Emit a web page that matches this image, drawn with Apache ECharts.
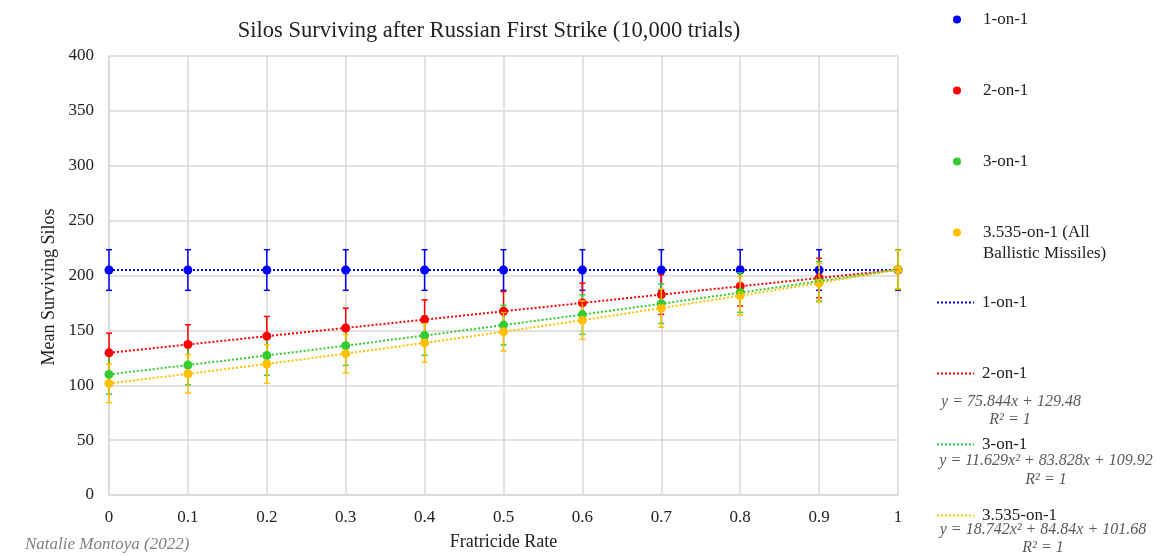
<!DOCTYPE html>
<html>
<head>
<meta charset="utf-8">
<script src="https://cdn.jsdelivr.net/npm/echarts@6/dist/echarts.min.js"></script>
<style>
  html, body { margin: 0; padding: 0; background: #fff; }
  #chart { width: 1156px; height: 557px; }
</style>
</head>
<body>
<div id="chart"></div>
<script>
// fratricide rate (x) and mean surviving silos per attack ratio
const rates = [0, 0.1, 0.2, 0.3, 0.4, 0.5, 0.6, 0.7, 0.8, 0.9, 1];
const oneOnOne = [205, 205, 205, 205, 205, 205, 205, 205, 205, 205, 205];
const twoOnOne = [129.5, 137.1, 144.7, 152.2, 159.8, 167.4, 175.0, 182.6, 190.2, 197.7, 205.3];
const threeOnOne = [109.9, 118.4, 127.1, 136.1, 145.3, 154.8, 164.4, 174.3, 184.4, 194.8, 205.4];
const allBallistic = [101.7, 110.4, 119.4, 128.8, 138.6, 148.8, 159.3, 170.3, 181.7, 193.2, 205.3];

// error bar half-heights
const errOne = [18.5, 18.5, 18.5, 18.5, 18.5, 18.5, 18.5, 18.5, 18.5, 18.5, 18.5];
const errTwo = [18, 18, 18, 18, 18, 18, 18, 18, 18, 18, 18];
const errThree = [18, 18, 18, 18, 18, 18, 18, 18, 18, 18, 18];
const errAll = [17.5, 17.5, 17.5, 17.5, 17.5, 17.5, 17.5, 17.5, 17.5, 17.5, 17.5];

const seriesNames = ["1-on-1", "2-on-1", "3-on-1", "3.535-on-1 (All Ballistic Missiles)"];
const trendNames = ["Trend 1-on-1", "Trend 2-on-1", "Trend 3-on-1", "Trend 3.535-on-1"];
const trendLabels = {
  "Trend 1-on-1": "1-on-1",
  "Trend 2-on-1": "2-on-1",
  "Trend 3-on-1": "3-on-1",
  "Trend 3.535-on-1": "3.535-on-1",
};
const equations = [
  { text: "y = 75.844x + 129.48", x: 1011, y: 402 },
  { text: "R² = 1", x: 1010, y: 420 },
  { text: "y = 11.629x² + 83.828x + 109.92", x: 1046, y: 461 },
  { text: "R² = 1", x: 1046, y: 480 },
  { text: "y = 18.742x² + 84.84x + 101.68", x: 1043, y: 530 },
  { text: "R² = 1", x: 1043, y: 548 },
];

const colors = ["#0000ff", "#ff0000", "#33cc33", "#ffc000"];
const means = [oneOnOne, twoOnOne, threeOnOne, allBallistic];
const errors = [errOne, errTwo, errThree, errAll];

const FONT = "Liberation Serif";

function errorSeries(idx) {
  return {
    type: "custom",
    name: seriesNames[idx] + " err",
    z: 3 + idx,
    silent: true,
    data: rates.map((x, i) => [x, means[idx][i] - errors[idx][i], means[idx][i] + errors[idx][i]]),
    renderItem: (params, api) => {
      const lo = api.coord([api.value(0), api.value(1)]);
      const hi = api.coord([api.value(0), api.value(2)]);
      const cap = 3;
      const style = { stroke: colors[idx], lineWidth: 1.5 };
      return {
        type: "group",
        children: [
          { type: "line", shape: { x1: lo[0], y1: lo[1], x2: hi[0], y2: hi[1] }, style },
          { type: "line", shape: { x1: lo[0] - cap, y1: lo[1], x2: lo[0] + cap, y2: lo[1] }, style },
          { type: "line", shape: { x1: hi[0] - cap, y1: hi[1], x2: hi[0] + cap, y2: hi[1] }, style },
        ],
      };
    },
  };
}

const series = [];
means.forEach((vals, idx) => {
  series.push(errorSeries(idx));
  series.push({
    type: "scatter",
    name: seriesNames[idx],
    z: 4 + idx,
    symbol: "circle",
    symbolSize: 9,
    itemStyle: { color: colors[idx], opacity: 1 },
    data: rates.map((x, i) => [x, vals[i]]),
  });
});
means.forEach((vals, idx) => {
  series.push({
    type: "line",
    name: trendNames[idx],
    z: 10 + idx,
    symbol: "none",
    smooth: false,
    lineStyle: { color: colors[idx], width: 2, type: [2, 2] },
    itemStyle: { color: colors[idx] },
    data: rates.map((x, i) => [x, vals[i]]),
  });
});

const chart = echarts.init(document.getElementById("chart"));
chart.setOption({
  animation: false,
  textStyle: { fontFamily: FONT },
  title: {
    text: "Silos Surviving after Russian First Strike (10,000 trials)",
    left: 484,
    textAlign: "center",
    top: 15,
    textStyle: { fontFamily: FONT, fontSize: 22.5, fontWeight: "normal", color: "#222" },
  },
  grid: { left: 109, right: 258, top: 56, bottom: 62 },
  legend: [
    {
      data: seriesNames,
      orient: "vertical",
      left: 948,
      top: 3,
      itemWidth: 30,
      itemHeight: 8,
      itemGap: 48,
      selectedMode: false,
      formatter: (name) => (name === seriesNames[3] ? "3.535-on-1 (All" : name),
      textStyle: { fontFamily: FONT, fontSize: 17, color: "#222", lineHeight: 23, padding: [0, 0, 0, 6] },
    },
    {
      data: trendNames,
      orient: "vertical",
      left: 931,
      top: 286,
      itemWidth: 37,
      itemHeight: 10,
      itemGap: 48,
      selectedMode: false,
      itemStyle: { opacity: 0 },
      formatter: (name) => trendLabels[name],
      textStyle: { fontFamily: FONT, fontSize: 17, color: "#222", lineHeight: 23, padding: [0, 0, 0, 3] },
    },
  ],
  xAxis: {
    type: "value",
    min: 0,
    max: 1,
    interval: 0.1,
    name: "Fratricide Rate",
    nameLocation: "middle",
    nameGap: 38,
    nameTextStyle: { fontFamily: FONT, fontSize: 18, color: "#222" },
    axisLine: { lineStyle: { color: "#d9d9d9", width: 1.5 } },
    axisTick: { show: false },
    axisLabel: { fontFamily: FONT, fontSize: 17, color: "#222", margin: 14 },
    splitLine: { show: true, lineStyle: { color: "#d9d9d9", width: 1.5 } },
  },
  yAxis: {
    type: "value",
    min: 0,
    max: 400,
    interval: 50,
    axisLine: { show: true, lineStyle: { color: "#d9d9d9", width: 1.5 } },
    axisTick: { show: false },
    axisLabel: { fontFamily: FONT, fontSize: 17, color: "#222", margin: 15 },
    splitLine: { show: true, lineStyle: { color: "#d9d9d9", width: 1.5 } },
  },
  graphic: [
    {
      type: "text",
      x: 49,
      y: 287,
      rotation: Math.PI / 2,
      style: {
        text: "Mean Surviving Silos",
        font: "18px " + FONT,
        fill: "#222",
        align: "center",
        verticalAlign: "middle",
      },
    },
    {
      type: "text",
      x: 983,
      y: 254,
      style: {
        text: "Ballistic Missiles)",
        font: "17px " + FONT,
        fill: "#222",
        align: "left",
        verticalAlign: "middle",
      },
    },
    {
      type: "text",
      x: 25,
      y: 545,
      style: {
        text: "Natalie Montoya (2022)",
        font: "italic 17px " + FONT,
        fill: "#808080",
        verticalAlign: "middle",
      },
    },
  ].concat(
    equations.map((eq) => ({
      type: "text",
      x: eq.x,
      y: eq.y,
      style: {
        text: eq.text,
        font: "italic 16px " + FONT,
        fill: "#595959",
        align: "center",
        verticalAlign: "middle",
      },
    }))
  ),
  series,
});
</script>
</body>
</html>
